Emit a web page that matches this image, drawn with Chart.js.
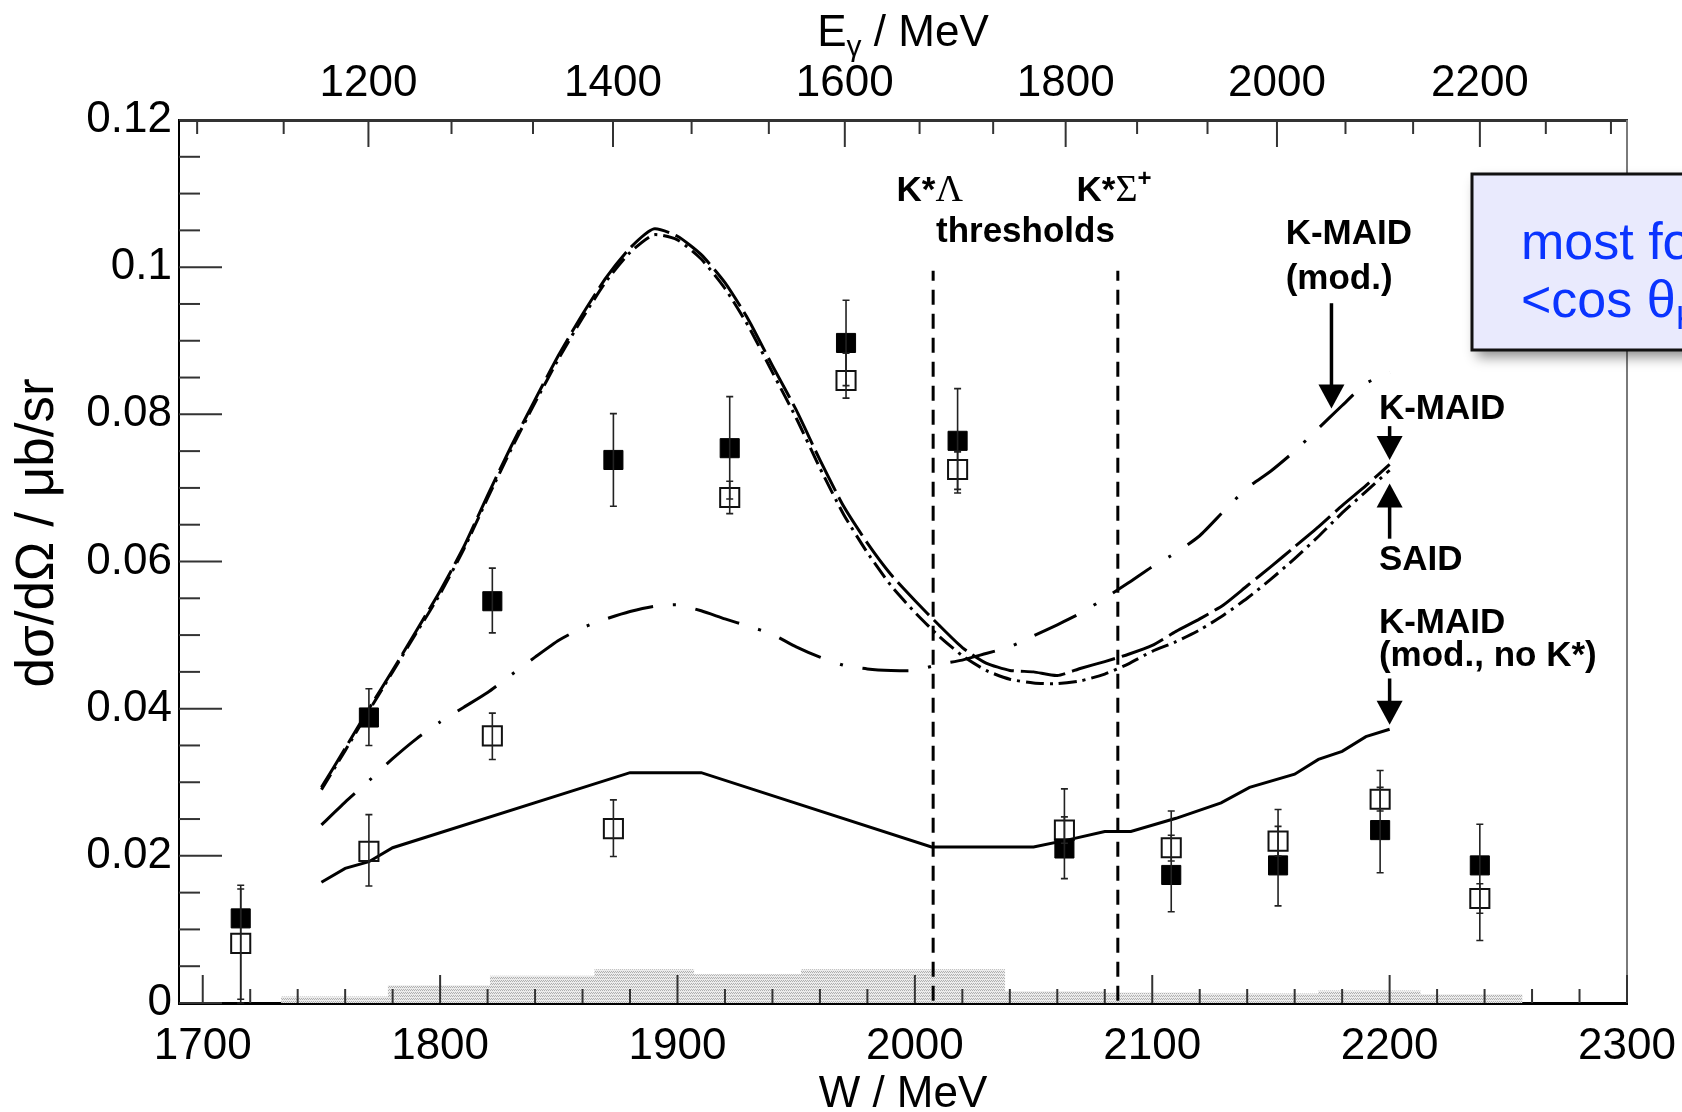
<!DOCTYPE html>
<html>
<head>
<meta charset="utf-8">
<script src="https://cdn.jsdelivr.net/npm/chart.js@4.4.1/dist/chart.umd.min.js"></script>
<style>
  html, body { margin: 0; padding: 0; background: #fff; }
  canvas { display: block; }
</style>
</head>
<body>
<canvas id="xsec" width="1682" height="1112"></canvas>
<script>
// measured points, one per photon energy bin (W in MeV)
const dataW = [1716, 1770, 1822, 1873, 1922, 1971, 2018, 2063, 2108, 2153, 2196, 2238];
const filledY  = [0.0115, 0.0388, 0.0546, 0.0738, 0.0754, 0.0897, 0.0764, 0.0210, 0.0174, 0.0187, 0.0235, 0.0187];
const filledLo = [0.0000, 0.0350, 0.0503, 0.0675, 0.0685, 0.0839, 0.0693, 0.0169, 0.0124, 0.0132, 0.0177, 0.0085];
const filledHi = [0.0160, 0.0427, 0.0591, 0.0801, 0.0824, 0.0955, 0.0835, 0.0291, 0.0261, 0.0263, 0.0316, 0.0243];
const openY  = [0.0081, 0.0206, 0.0363, 0.0237, 0.0687, 0.0846, 0.0725, 0.0235, 0.0211, 0.0220, 0.0277, 0.0142];
const openLo = [0.0005, 0.0159, 0.0331, 0.0199, 0.0665, 0.0822, 0.0698, 0.0217, 0.0193, 0.0200, 0.0261, 0.0122];
const openHi = [0.0155, 0.0256, 0.0394, 0.0276, 0.0709, 0.0883, 0.0749, 0.0253, 0.0228, 0.0240, 0.0293, 0.0162];

// model curves
const curveW = [1750, 1760, 1770, 1780, 1790, 1800, 1810, 1820, 1830, 1840, 1850, 1860, 1870, 1880, 1890,
                1900, 1910, 1920, 1930, 1940, 1950, 1960, 1970, 1980, 1990, 2000, 2010, 2020, 2030, 2040,
                2050, 2060, 2070, 2080, 2090, 2100, 2110, 2120, 2130, 2140, 2150, 2160, 2170, 2180, 2190, 2200];
const kmaidY = [0.0293, 0.0346, 0.0400, 0.0452, 0.0506, 0.0560, 0.0620, 0.0690, 0.0757, 0.0820, 0.0881, 0.0936, 0.0986, 0.1026, 0.1052,
                0.1042, 0.1017, 0.0979, 0.0928, 0.0866, 0.0806, 0.0738, 0.0675, 0.0625, 0.0582, 0.0547, 0.0514, 0.0483, 0.0462, 0.0452,
                0.0450, 0.0445, 0.0455, 0.0464, 0.0474, 0.0486, 0.0505, 0.0522, 0.0541, 0.0567, 0.0593, 0.0620, 0.0647, 0.0676, 0.0703, 0.0732];
const saidY  = [0.0290, 0.0343, 0.0397, 0.0450, 0.0503, 0.0556, 0.0617, 0.0686, 0.0753, 0.0816, 0.0876, 0.0931, 0.0981, 0.1020, 0.1044,
                0.1037, 0.1011, 0.0971, 0.0919, 0.0857, 0.0795, 0.0727, 0.0664, 0.0612, 0.0567, 0.0531, 0.0499, 0.0472, 0.0452, 0.0440,
                0.0435, 0.0434, 0.0438, 0.0447, 0.0461, 0.0478, 0.0491, 0.0507, 0.0527, 0.0550, 0.0576, 0.0604, 0.0634, 0.0666, 0.0695, 0.0724];
const kmaidModY = [0.0242, 0.0273, 0.0302, 0.0332, 0.0359, 0.0382, 0.0402, 0.0422, 0.0446, 0.0470, 0.0493, 0.0510, 0.0522, 0.0532, 0.0539,
                   0.0541, 0.0533, 0.0522, 0.0512, 0.0501, 0.0484, 0.0470, 0.0459, 0.0454, 0.0452, 0.0452, 0.0460, 0.0466, 0.0475, 0.0484,
                   0.0499, 0.0514, 0.0530, 0.0550, 0.0571, 0.0593, 0.0612, 0.0635, 0.0668, 0.0700, 0.0723, 0.0750, 0.0781, 0.0812, 0.0842, 0.0857];
const noKstarW = [1750, 1760, 1770, 1780, 1880, 1910, 2007, 2050, 2065, 2080, 2091, 2110, 2129, 2141, 2160, 2170, 2180, 2190, 2200];
const noKstarY = [0.0164, 0.0183, 0.0192, 0.0211, 0.0313, 0.0313, 0.0212, 0.0212, 0.0222, 0.0233, 0.0233, 0.0251, 0.0272, 0.0293, 0.0311, 0.0331, 0.0342, 0.0362, 0.0372];

// K*Lambda and K*Sigma+ thresholds
const thresholdW = [2007.7, 2085.5];
const thresholdTop = 0.0995;

// systematic uncertainty histogram (bin edges in W, heights)
const sysEdgesW = [1733, 1778, 1821, 1865, 1907, 1952, 1996, 2038, 2080, 2119, 2170, 2213, 2256];
const sysHeights = [0.0009, 0.0024, 0.0037, 0.0046, 0.0039, 0.0046, 0.0046, 0.0016, 0.0014, 0.0013, 0.0017, 0.0012];

// axis ticks
const xTicks = [1700, 1800, 1900, 2000, 2100, 2200, 2300];
const eTicks = [1200, 1400, 1600, 1800, 2000, 2200];
const yTicks = [0, 0.02, 0.04, 0.06, 0.08, 0.1, 0.12];

const mp = 938.27;
const wOf = e => Math.sqrt(mp * mp + 2 * mp * e);
const eOf = w => (w * w - mp * mp) / (2 * mp);
const pts = (xs, ys) => xs.map((x, i) => ({ x: x, y: ys[i] }));

const FONT = 'Liberation Sans';
const BOLD = 'bold 35px "' + FONT + '"';
const SERIF = '38px "Liberation Serif"';

const canvas = document.getElementById('xsec');

function stipple() {
  const c = document.createElement('canvas');
  c.width = 4; c.height = 3;
  const g = c.getContext('2d');
  g.fillStyle = '#ececec';
  g.fillRect(0, 0, 4, 3);
  g.fillStyle = '#b0b0b0';
  g.fillRect(0, 0, 1, 1);
  g.fillRect(2, 0, 1, 1);
  g.fillRect(1, 2, 1, 1);
  g.fillRect(3, 2, 1, 1);
  return canvas.getContext('2d').createPattern(c, 'repeat');
}

function sysPoints() {
  const out = [{ x: sysEdgesW[0], y: 0 }];
  sysHeights.forEach((h, i) => out.push({ x: sysEdgesW[i], y: h }));
  out.push({ x: sysEdgesW[sysEdgesW.length - 1], y: 0 });
  return out;
}

function curve(label, xs, ys, dash, tension) {
  return {
    label: label, data: pts(xs, ys), borderColor: '#000', borderWidth: 3,
    borderDash: dash, pointRadius: 0, fill: false, tension: tension
  };
}

// annotation texts, placed in data coordinates
const notes = [
  { w: 1992.3, v: 0.1090, parts: [['K*', BOLD], ['\u039B', SERIF]] },
  { w: 2068.1, v: 0.1090, parts: [['K*', BOLD], ['\u03A3', SERIF], ['+', 'bold 24px "' + FONT + '"', -15]] },
  { w: 2008.9, v: 0.1034, parts: [['thresholds', BOLD]] },
  { w: 2156.2, v: 0.1031, parts: [['K-MAID', BOLD]] },
  { w: 2156.2, v: 0.0971, parts: [['(mod.)', BOLD]] },
  { w: 2195.5, v: 0.0794, parts: [['K-MAID', BOLD]] },
  { w: 2195.5, v: 0.0589, parts: [['SAID', BOLD]] },
  { w: 2195.5, v: 0.0503, parts: [['K-MAID', BOLD]] },
  { w: 2195.5, v: 0.0458, parts: [['(mod., no K*)', BOLD]] }
];
// arrows: W, tail value, tip value
const arrows = [[2175.5, 0.0951, 0.0808], [2200, 0.0784, 0.0738], [2200, 0.0631, 0.0706], [2200, 0.0441, 0.0378]];

const errorBars = {
  id: 'errorBars',
  afterDatasetsDraw(chart) {
    const { ctx, scales: { x, y } } = chart;
    ctx.save();
    ctx.strokeStyle = '#222';
    ctx.lineWidth = 1.6;
    chart.data.datasets.forEach(ds => {
      if (!ds.errLo) return;
      ds.data.forEach((p, i) => {
        const px = x.getPixelForValue(p.x);
        const lo = y.getPixelForValue(ds.errLo[i]);
        const hi = y.getPixelForValue(ds.errHi[i]);
        ctx.beginPath();
        ctx.moveTo(px, lo); ctx.lineTo(px, hi);
        ctx.moveTo(px - 3.5, lo); ctx.lineTo(px + 3.5, lo);
        ctx.moveTo(px - 3.5, hi); ctx.lineTo(px + 3.5, hi);
        ctx.stroke();
      });
    });
    ctx.restore();
  }
};

function tickLine(ctx, x0, y0, x1, y1) {
  ctx.beginPath(); ctx.moveTo(x0, y0); ctx.lineTo(x1, y1); ctx.stroke();
}

function textRun(ctx, x, y, parts) {
  parts.forEach(p => {
    ctx.font = p[1];
    ctx.fillText(p[0], x, y + (p[2] || 0));
    x += ctx.measureText(p[0]).width;
  });
  return x;
}

const decorations = {
  id: 'decorations',
  afterDraw(chart) {
    const { ctx, chartArea: a, scales: { x, y } } = chart;
    ctx.save();

    // right frame edge
    ctx.strokeStyle = '#7a7a7a';
    ctx.lineWidth = 2;
    tickLine(ctx, a.right, a.top, a.right, a.bottom);

    // inward ticks
    ctx.strokeStyle = '#333';
    ctx.lineWidth = 2;
    for (let i = 0; i <= 24; i++) {
      const py = y.getPixelForValue(i * 0.005);
      tickLine(ctx, a.left, py, a.left + (i % 4 === 0 ? 43 : 21), py);
    }
    for (let w = 1700; w <= 2300; w += 20) {
      const px = x.getPixelForValue(w);
      tickLine(ctx, px, a.bottom, px, a.bottom - (w % 100 === 0 ? 28 : 14));
    }
    for (let i = 16; i <= 35; i++) {
      const w = wOf(i * 200 / 3);
      if (w > 2300) break;
      const px = x.getPixelForValue(w);
      tickLine(ctx, px, a.top, px, a.top + (i % 3 === 0 ? 27 : 14));
    }

    // axis titles
    ctx.fillStyle = '#000';
    ctx.textBaseline = 'alphabetic';
    ctx.textAlign = 'left';
    const big = '44px "' + FONT + '"';
    const cx = (a.left + a.right) / 2;
    ctx.font = big;
    let wE = ctx.measureText('E / MeV').width;
    ctx.font = '30px "' + FONT + '"';
    wE += ctx.measureText('\u03B3').width;
    textRun(ctx, cx - wE / 2, 46, [['E', big], ['\u03B3', '30px "' + FONT + '"', 10], [' / MeV', big]]);
    ctx.font = big;
    ctx.textAlign = 'center';
    ctx.fillText('W / MeV', cx, 1107);
    ctx.save();
    ctx.translate(38, 533);
    ctx.rotate(-Math.PI / 2);
    ctx.font = '53px "' + FONT + '"';
    ctx.textBaseline = 'middle';
    ctx.fillText('d\u03C3/d\u03A9 / \u03BCb/sr', 0, 0);
    ctx.restore();

    // annotations
    ctx.textAlign = 'left';
    ctx.textBaseline = 'alphabetic';
    notes.forEach(n => textRun(ctx, x.getPixelForValue(n.w), y.getPixelForValue(n.v), n.parts));
    ctx.strokeStyle = '#000';
    ctx.lineWidth = 3.5;
    arrows.forEach(ar => {
      const px = x.getPixelForValue(ar[0]);
      const y0 = y.getPixelForValue(ar[1]);
      const y1 = y.getPixelForValue(ar[2]);
      const dir = Math.sign(y1 - y0);
      tickLine(ctx, px, y0, px, y1 - dir * 20);
      ctx.beginPath();
      ctx.moveTo(px, y1);
      ctx.lineTo(px - 13, y1 - dir * 24);
      ctx.lineTo(px + 13, y1 - dir * 24);
      ctx.closePath();
      ctx.fill();
    });

    // overlay box from the slide
    ctx.save();
    ctx.shadowColor = 'rgba(0,0,0,0.45)';
    ctx.shadowBlur = 12;
    ctx.shadowOffsetX = 5;
    ctx.shadowOffsetY = 7;
    ctx.fillStyle = '#e9eafd';
    ctx.fillRect(1472, 174, 260, 176);
    ctx.restore();
    ctx.strokeStyle = '#111';
    ctx.lineWidth = 3;
    ctx.strokeRect(1472, 174, 260, 176);
    ctx.fillStyle = '#0a34ff';
    ctx.font = '52px "' + FONT + '"';
    ctx.fillText('most forward', 1521, 259);
    textRun(ctx, 1521, 317, [['<cos \u03B8', '52px "' + FONT + '"'], ['K', '34px "' + FONT + '"', 12]]);

    ctx.restore();
  }
};

const tickFont = { family: FONT, size: 44 };

// fixed frame: the plot box sits at the same place as in the original figure
function pinBox(size) {
  return s => {
    if (s.isHorizontal()) s.height = size; else s.width = size;
    s.paddingLeft = 0; s.paddingRight = 0; s.paddingTop = 0; s.paddingBottom = 0;
  };
}

new Chart(canvas, {
  type: 'line',
  data: {
    datasets: [
      { label: 'data (filled)', data: pts(dataW, filledY), errLo: filledLo, errHi: filledHi, showLine: false,
        pointStyle: 'rect', pointRadius: 13.5, backgroundColor: '#000', borderColor: '#000', borderWidth: 1 },
      { label: 'data (open)', data: pts(dataW, openY), errLo: openLo, errHi: openHi, showLine: false,
        pointStyle: 'rect', pointRadius: 13.5, backgroundColor: 'rgba(0,0,0,0)', borderColor: '#111', borderWidth: 2 },
      curve('K-MAID', curveW, kmaidY, [45, 7], 0.2),
      curve('SAID', curveW, saidY, [18, 6, 3, 6], 0.2),
      curve('K-MAID (mod.)', curveW, kmaidModY, [46, 20, 3, 20], 0.2),
      curve('K-MAID (mod., no K*)', noKstarW, noKstarY, [], 0),
      curve('K*Lambda threshold', [thresholdW[0], thresholdW[0]], [0.0003, thresholdTop], [15, 9], 0),
      curve('K*Sigma threshold', [thresholdW[1], thresholdW[1]], [0.0003, thresholdTop], [15, 9], 0),
      { label: 'systematics', data: sysPoints(), stepped: 'before', fill: 'origin', backgroundColor: stipple(),
        borderWidth: 0, pointRadius: 0 }
    ]
  },
  options: {
    responsive: false,
    animation: false,
    devicePixelRatio: 1,
    layout: { padding: { left: 0, right: 55, top: 0, bottom: 0 } },
    plugins: { legend: { display: false }, tooltip: { enabled: false } },
    scales: {
      x: {
        type: 'linear', position: 'bottom', min: 1690, max: 2300,
        afterBuildTicks: s => { s.ticks = xTicks.map(v => ({ value: v })); },
        afterFit: pinBox(109),
        grid: { display: false, drawTicks: false },
        border: { display: true, color: '#000', width: 3 },
        ticks: { padding: 17, color: '#000', font: tickFont, maxRotation: 0, autoSkip: false, callback: v => String(v) }
      },
      x2: {
        type: 'linear', position: 'top', min: 1690, max: 2300,
        afterBuildTicks: s => { s.ticks = eTicks.map(e => ({ value: wOf(e) })); },
        afterFit: pinBox(120),
        grid: { display: false, drawTicks: false },
        border: { display: true, color: '#333', width: 3 },
        ticks: { padding: 10, color: '#000', font: tickFont, maxRotation: 0, autoSkip: false,
                 callback: v => String(Math.round(eOf(v))) }
      },
      y: {
        type: 'linear', position: 'left', min: 0, max: 0.12,
        afterBuildTicks: s => { s.ticks = yTicks.map(v => ({ value: v })); },
        afterFit: pinBox(179),
        grid: { display: false, drawTicks: false },
        border: { display: true, color: '#000', width: 2 },
        ticks: { padding: 7, color: '#000', font: tickFont, callback: v => String(+v.toFixed(2)) }
      }
    }
  },
  plugins: [errorBars, decorations]
});
</script>
</body>
</html>
